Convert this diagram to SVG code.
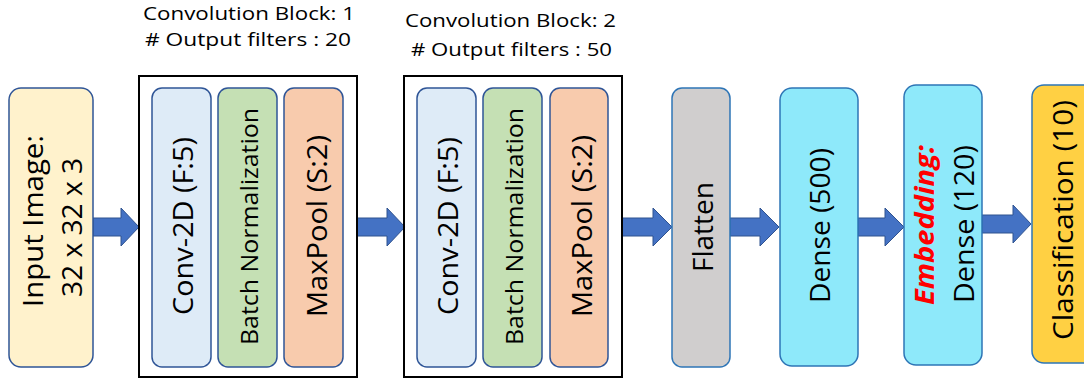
<svg xmlns="http://www.w3.org/2000/svg" width="1084" height="378" viewBox="0 0 1084 378">
<style>
.t{font-family:"Open Sans","Liberation Sans",sans-serif;fill:#000;text-anchor:middle}
.big{font-size:28px}
.mid{font-size:24.5px}
.ttl{font-size:19px}
.box{stroke-width:1.5}
.dk{stroke:#2F5597}
.lt{stroke:#2E75B6}
.blk{fill:none;stroke:#000;stroke-width:2}
.arr{fill:#4472C4;stroke:#2F528F;stroke-width:1}
.emb{fill:#FF0000;font-weight:bold;font-style:italic;font-size:27px}
</style>
<rect width="1084" height="378" fill="#fff"/>
<g id="connectors">
<path class="arr" d="M93 218 H121 V208 L139 227 L121 246 V236 H93 Z"/>
<path class="arr" d="M357 218 H387 V208 L405 227 L387 246 V236 H357 Z"/>
<path class="arr" d="M622 218 H653 V208 L672 227 L653 246 V236 H622 Z"/>
<path class="arr" d="M730 218 H760 V208 L779 227 L760 246 V236 H730 Z"/>
<path class="arr" d="M858 218 H885 V208 L904 227 L885 246 V236 H858 Z"/>
<path class="arr" d="M982 215 H1013 V205 L1031 224 L1013 243 V233 H982 Z"/>
</g>
<g id="input">
<rect class="box dk" x="9" y="88" width="84" height="279" rx="12" fill="#FFF2CC"/>
<text class="t big" transform="translate(43,221) rotate(-90)" textLength="172" lengthAdjust="spacingAndGlyphs">Input Image:</text>
<text class="t big" transform="translate(82,227.5) rotate(-90)" textLength="139" lengthAdjust="spacingAndGlyphs">32 x 32 x 3</text>
</g>
<g id="block1">
<rect class="blk" x="139" y="76" width="218" height="301"/>
<text class="t ttl" x="249" y="20" textLength="212" lengthAdjust="spacingAndGlyphs">Convolution Block: 1</text>
<text class="t ttl" x="248" y="46" textLength="206" lengthAdjust="spacingAndGlyphs"># Output filters : 20</text>
</g>
<g id="conv1">
<rect class="box dk" x="152" y="88" width="59" height="279" rx="10" fill="#DEEBF7"/>
<text class="t big" transform="translate(193,226) rotate(-90)" textLength="178" lengthAdjust="spacingAndGlyphs">Conv-2D (F:5)</text>
</g>
<g id="bn1">
<rect class="box dk" x="218" y="88" width="59" height="279" rx="10" fill="#C5E0B4"/>
<text class="t mid" transform="translate(258,226.5) rotate(-90)" textLength="237" lengthAdjust="spacingAndGlyphs">Batch Normalization</text>
</g>
<g id="pool1">
<rect class="box dk" x="284" y="88" width="59" height="279" rx="10" fill="#F8CBAD"/>
<text class="t big" transform="translate(327,226) rotate(-90)" textLength="182" lengthAdjust="spacingAndGlyphs">MaxPool (S:2)</text>
</g>
<g id="block2">
<rect class="blk" x="404" y="76" width="218" height="301"/>
<text class="t ttl" x="510.5" y="27" textLength="211" lengthAdjust="spacingAndGlyphs">Convolution Block: 2</text>
<text class="t ttl" x="511.5" y="56" textLength="201" lengthAdjust="spacingAndGlyphs"># Output filters : 50</text>
</g>
<g id="conv2">
<rect class="box dk" x="417" y="88" width="59" height="279" rx="10" fill="#DEEBF7"/>
<text class="t big" transform="translate(458,226) rotate(-90)" textLength="178" lengthAdjust="spacingAndGlyphs">Conv-2D (F:5)</text>
</g>
<g id="bn2">
<rect class="box dk" x="483" y="88" width="59" height="279" rx="10" fill="#C5E0B4"/>
<text class="t mid" transform="translate(523,226.5) rotate(-90)" textLength="237" lengthAdjust="spacingAndGlyphs">Batch Normalization</text>
</g>
<g id="pool2">
<rect class="box dk" x="550" y="88" width="58" height="279" rx="10" fill="#F8CBAD"/>
<text class="t big" transform="translate(592,226) rotate(-90)" textLength="182" lengthAdjust="spacingAndGlyphs">MaxPool (S:2)</text>
</g>
<g id="flatten">
<rect class="box lt" x="672" y="88" width="58" height="279" rx="10" fill="#D0CECE"/>
<text class="t big" transform="translate(713,227) rotate(-90)" textLength="90" lengthAdjust="spacingAndGlyphs">Flatten</text>
</g>
<g id="dense500">
<rect class="box lt" x="780" y="88" width="78" height="278" rx="12" fill="#8EE9FA"/>
<text class="t big" transform="translate(830,225.5) rotate(-90)" textLength="155" lengthAdjust="spacingAndGlyphs">Dense (500)</text>
</g>
<g id="embedding">
<rect class="box lt" x="904" y="85" width="78" height="280" rx="12" fill="#8EE9FA"/>
<text class="t emb" transform="translate(934,225) rotate(-90)" textLength="160" lengthAdjust="spacingAndGlyphs">Embedding:</text>
<text class="t big" transform="translate(974,224) rotate(-90)" textLength="158" lengthAdjust="spacingAndGlyphs">Dense (120)</text>
</g>
<g id="classification">
<rect class="box lt" x="1032" y="85" width="70" height="278" rx="12" fill="#FFD043"/>
<text class="t big" transform="translate(1073,220) rotate(-90)" textLength="240" lengthAdjust="spacingAndGlyphs">Classification (10)</text>
</g>
</svg>
